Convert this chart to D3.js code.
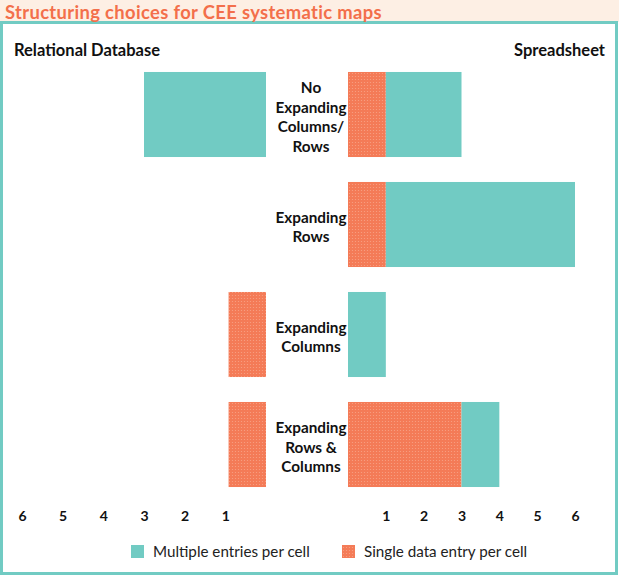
<!DOCTYPE html>
<html>
<head>
<meta charset="utf-8">
<script src="https://cdn.jsdelivr.net/npm/d3@7"></script>
<style>
  html, body { margin: 0; padding: 0; background: #ffffff; }
  svg { display: block; }
  text { font-family: Lato, "Open Sans", sans-serif; }
</style>
</head>
<body>
<div id="chart"></div>
<script>
// ---- data ----
const title = "Structuring choices for CEE systematic maps";
const leftTitle = "Relational Database";
const rightTitle = "Spreadsheet";
const categories = ["No Expanding Columns/ Rows", "Expanding Rows", "Expanding Columns", "Expanding Rows & Columns"];
const categoryLines = [["No", "Expanding", "Columns/", "Rows"], ["Expanding", "Rows"], ["Expanding", "Columns"], ["Expanding", "Rows &", "Columns"]];
const dbSingle   = [0, 0, 0.92, 0.92];
const dbMultiple = [3, 0, 0, 0];
const ssSingle   = [1, 1, 0, 3];
const ssMultiple = [2, 5, 1, 1];
const tickValues = [1, 2, 3, 4, 5, 6];
const seriesNames = ["Multiple entries per cell", "Single data entry per cell"];

// ---- layout ----
const W = 619, H = 576;
const teal = "#71cbc3", orange = "#f47b57", titleColor = "#f36f4b";

const svg = d3.select("#chart").append("svg").attr("width", W).attr("height", H);

const defs = svg.append("defs");
const pat = defs.append("pattern").attr("id", "dots").attr("patternUnits", "userSpaceOnUse")
  .attr("width", 3).attr("height", 3);
pat.append("rect").attr("width", 3).attr("height", 3).attr("fill", orange);
pat.append("circle").attr("cx", 1.5).attr("cy", 1.5).attr("r", 0.6).attr("fill", "#f8a286");

// title band
svg.append("rect").attr("x", 0).attr("y", 0).attr("width", W).attr("height", 22).attr("fill", "#fdefe4");

// frame
svg.append("rect").attr("x", 1.5).attr("y", 22.5).attr("width", W - 4).attr("height", H - 25)
  .attr("fill", "#ffffff").attr("stroke", teal).attr("stroke-width", 3);

svg.append("text").attr("x", 5).attr("y", 18.5).attr("fill", titleColor)
  .attr("font-size", 18.4).attr("letter-spacing", 0.35).attr("font-weight", 700).text(title);

svg.append("text").attr("x", 14).attr("y", 56).attr("font-size", 16.5).attr("font-weight", 700)
  .attr("fill", "#111").text(leftTitle);
svg.append("text").attr("x", 605).attr("y", 56).attr("text-anchor", "end").attr("font-size", 16.5)
  .attr("font-weight", 700).attr("fill", "#111").text(rightTitle);

// scales
const y = d3.scaleBand().domain(categories).range([59.5, 499.5]).paddingInner(0.227).paddingOuter(0.1135);
const xL = d3.scaleLinear().domain([0, 6]).range([266, 22]);
const xR = d3.scaleLinear().domain([0, 6]).range([348, 575]);

categories.forEach((c, i) => {
  const s = dbSingle[i], m = dbMultiple[i];
  if (s > 0) svg.append("rect").attr("x", xL(s)).attr("y", y(c)).attr("width", xL(0) - xL(s))
    .attr("height", y.bandwidth()).attr("fill", "url(#dots)");
  if (m > 0) svg.append("rect").attr("x", xL(s + m)).attr("y", y(c)).attr("width", xL(s) - xL(s + m))
    .attr("height", y.bandwidth()).attr("fill", teal);
  const s2 = ssSingle[i], m2 = ssMultiple[i];
  if (s2 > 0) svg.append("rect").attr("x", xR(0)).attr("y", y(c)).attr("width", xR(s2) - xR(0))
    .attr("height", y.bandwidth()).attr("fill", "url(#dots)");
  if (m2 > 0) svg.append("rect").attr("x", xR(s2)).attr("y", y(c)).attr("width", xR(s2 + m2) - xR(s2))
    .attr("height", y.bandwidth()).attr("fill", teal);

  // category label
  const lines = categoryLines[i];
  const lh = 19.5;
  const cy = y(c) + y.bandwidth() / 2 + 3;
  const t = svg.append("text").attr("x", 311).attr("text-anchor", "middle")
    .attr("font-size", 15.3).attr("font-weight", 700).attr("fill", "#111");
  lines.forEach((ln, k) => {
    t.append("tspan").attr("x", 311)
      .attr("y", cy + (k - (lines.length - 1) / 2) * lh + 5).text(ln);
  });
});

// axes (tick labels only)
const axL = d3.axisBottom(xL).tickValues(tickValues).tickSize(0).tickPadding(0).tickFormat(d3.format("d"));
const axR = d3.axisBottom(xR).tickValues(tickValues).tickSize(0).tickPadding(0).tickFormat(d3.format("d"));
[axL, axR].forEach(ax => {
  const g = svg.append("g").attr("transform", "translate(0,511)").call(ax);
  g.select(".domain").remove();
  g.selectAll("text").attr("font-family", "Lato, sans-serif").attr("font-size", 14)
    .attr("font-weight", 700).attr("fill", "#111");
});

// legend
const leg = svg.append("g");
const legItems = [{ name: seriesNames[0], fill: teal, x: 131 }, { name: seriesNames[1], fill: "url(#dots)", x: 342 }];
legItems.forEach(it => {
  leg.append("rect").attr("x", it.x).attr("y", 545).attr("width", 13).attr("height", 13).attr("fill", it.fill);
  leg.append("text").attr("x", it.x + 22).attr("y", 556.5).attr("font-size", 15.2).attr("fill", "#222").text(it.name);
});
</script>
</body>
</html>
